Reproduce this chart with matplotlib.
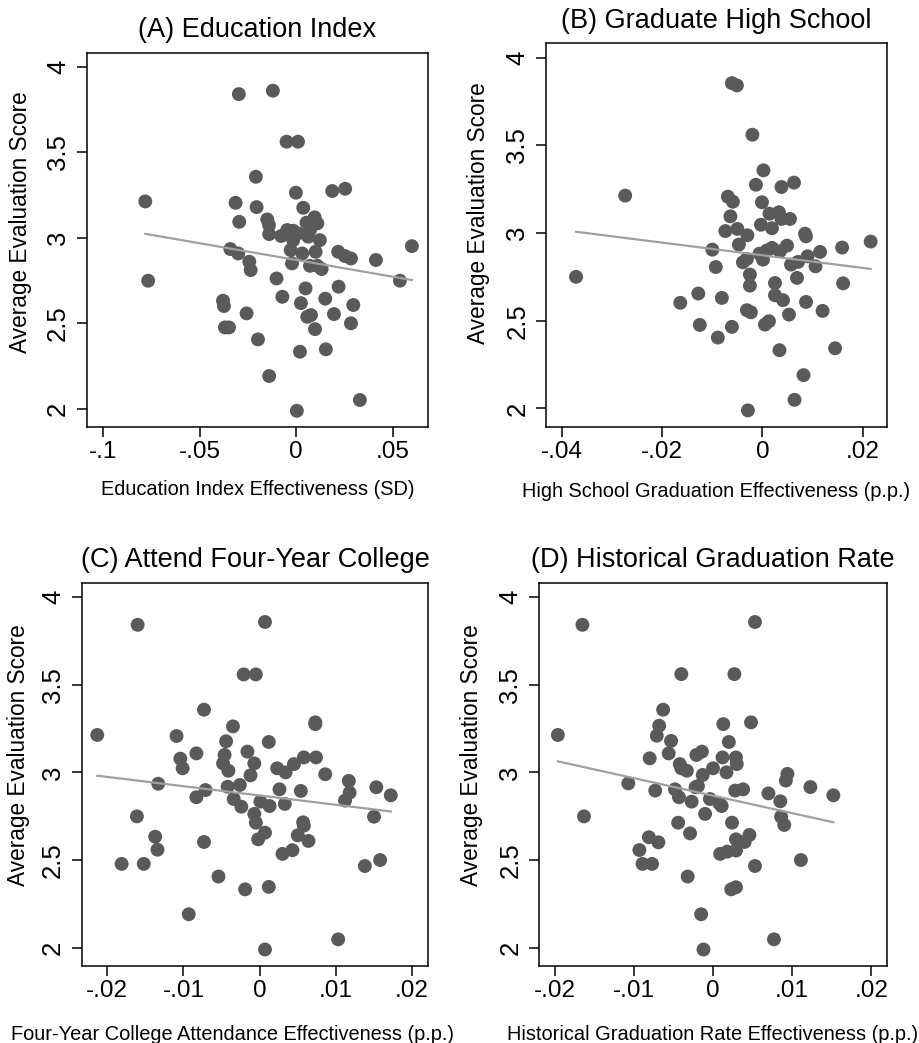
import numpy as np
import matplotlib
matplotlib.use("Agg")
import matplotlib.pyplot as plt
from matplotlib.ticker import FixedLocator, FixedFormatter

plt.rcParams['font.family'] = ['Liberation Sans', 'DejaVu Sans']

# Panel A: Education Index
a_x = [-0.0297, -0.0121, -0.0050, 0.0009, -0.0209, -0.0002, 0.0186, 0.0253, -0.0781, -0.0314,
       -0.0205, 0.0036, -0.0295, -0.0150, -0.0141, 0.0095, 0.0109, 0.0053, -0.0140, -0.0078,
       -0.0047, -0.0016, 0.0009, -0.0016, 0.0062, 0.0071, 0.0122, -0.0029, 0.0031, 0.0100,
       0.0217, 0.0252, 0.0283, 0.0412, 0.0598, -0.0341, -0.0300, -0.0243, -0.0236, -0.0022,
       0.0071, 0.0109, 0.0131, -0.0766, 0.0536, -0.0102, 0.0048, 0.0219, -0.0072, 0.0150,
       -0.0379, -0.0374, 0.0024, 0.0295, -0.0257, 0.0057, 0.0076, 0.0195, 0.0283, -0.0369,
       -0.0348, 0.0097, -0.0198, 0.0019, 0.0153, -0.0140, 0.0329, 0.0003]
a_y = [3.839, 3.859, 3.561, 3.561, 3.356, 3.263, 3.273, 3.286, 3.212, 3.204,
       3.179, 3.175, 3.093, 3.107, 3.074, 3.119, 3.084, 3.088, 3.021, 3.010,
       3.045, 3.041, 3.025, 2.986, 3.006, 3.045, 2.986, 2.928, 2.908, 2.918,
       2.918, 2.893, 2.879, 2.870, 2.951, 2.934, 2.908, 2.860, 2.811, 2.850,
       2.836, 2.836, 2.817, 2.749, 2.749, 2.762, 2.704, 2.714, 2.655, 2.644,
       2.632, 2.601, 2.618, 2.607, 2.558, 2.538, 2.548, 2.554, 2.500, 2.476,
       2.476, 2.466, 2.406, 2.334, 2.348, 2.192, 2.052, 1.989]

# Panel B: Graduate High School
b_x = [-0.0061, -0.0051, -0.0020, 0.0002, -0.0013, 0.0038, 0.0063, -0.0274, -0.0069, -0.0059,
       -0.0001, -0.0064, 0.0014, 0.0033, 0.0038, 0.0055, -0.0003, 0.0019, -0.0074, -0.0050,
       -0.0030, 0.0085, 0.0087, -0.0047, -0.0100, -0.0006, 0.0019, 0.0009, 0.0049, 0.0035,
       0.0159, 0.0216, 0.0115, 0.0090, -0.0031, -0.0039, 0.0001, 0.0071, 0.0057, 0.0106,
       -0.0093, -0.0372, -0.0025, 0.0069, -0.0025, 0.0025, 0.0161, -0.0128, -0.0081, 0.0025,
       0.0041, -0.0164, 0.0087, -0.0031, -0.0023, 0.0120, 0.0053, -0.0125, -0.0061, 0.0005,
       0.0013, -0.0089, 0.0034, 0.0145, 0.0082, 0.0064, -0.0029]
b_y = [3.854, 3.841, 3.560, 3.357, 3.275, 3.262, 3.287, 3.213, 3.207, 3.178,
       3.175, 3.095, 3.110, 3.118, 3.080, 3.080, 3.047, 3.027, 3.011, 3.023,
       2.987, 2.996, 2.981, 2.934, 2.905, 2.882, 2.915, 2.901, 2.928, 2.896,
       2.917, 2.951, 2.892, 2.867, 2.852, 2.833, 2.848, 2.835, 2.820, 2.810,
       2.806, 2.750, 2.763, 2.744, 2.700, 2.715, 2.713, 2.655, 2.630, 2.645,
       2.617, 2.602, 2.607, 2.560, 2.548, 2.556, 2.535, 2.476, 2.465, 2.478,
       2.497, 2.404, 2.332, 2.343, 2.190, 2.049, 1.989]

# Panel C: Attend Four-Year College
c_x = [-0.0160, 0.0007, -0.0021, -0.0005, -0.0073, -0.0035, 0.0073, 0.0073, -0.0213, -0.0109,
       -0.0044, 0.0012, -0.0016, -0.0083, -0.0104, -0.0101, -0.0046, -0.0048, -0.0041, -0.0007,
       -0.0012, 0.0023, 0.0034, 0.0045, 0.0058, 0.0074, 0.0086, -0.0133, -0.0026, -0.0042,
       -0.0071, -0.0083, 0.0026, 0.0054, 0.0117, 0.0118, 0.0112, 0.0153, 0.0172, -0.0034,
       -0.0024, 0.0001, 0.0013, 0.0033, -0.0161, 0.0150, -0.0007, -0.0005, 0.0057, 0.0058,
       0.0050, 0.0064, 0.0007, -0.0002, -0.0137, -0.0134, -0.0073, 0.0030, 0.0043, -0.0181,
       -0.0152, 0.0138, 0.0158, -0.0054, -0.0019, 0.0012, -0.0093, 0.0103, 0.0007]
c_y = [3.841, 3.857, 3.558, 3.558, 3.357, 3.262, 3.285, 3.275, 3.213, 3.207,
       3.177, 3.173, 3.118, 3.108, 3.078, 3.023, 3.099, 3.051, 3.009, 3.051,
       2.983, 3.023, 3.000, 3.047, 3.085, 3.085, 2.989, 2.935, 2.928, 2.918,
       2.899, 2.858, 2.903, 2.894, 2.951, 2.884, 2.839, 2.915, 2.869, 2.848,
       2.804, 2.833, 2.808, 2.820, 2.749, 2.747, 2.763, 2.713, 2.715, 2.696,
       2.641, 2.609, 2.656, 2.618, 2.633, 2.559, 2.603, 2.535, 2.556, 2.478,
       2.478, 2.466, 2.500, 2.406, 2.333, 2.347, 2.191, 2.048, 1.990]

# Panel D: Historical Graduation Rate
d_x = [-0.0165, 0.0053, -0.0040, 0.0027, -0.0063, -0.0068, -0.0071, 0.0013, 0.0048, -0.0196,
       -0.0053, 0.0020, -0.0056, -0.0080, -0.0021, -0.0014, 0.0012, 0.0029, 0.0030, -0.0042,
       -0.0040, -0.0033, 0.0000, 0.0017, -0.0013, 0.0094, 0.0092, -0.0107, -0.0019, -0.0022,
       -0.0048, -0.0073, 0.0028, 0.0038, 0.0123, 0.0070, 0.0152, -0.0043, -0.0027, -0.0004,
       0.0008, 0.0011, 0.0085, -0.0163, -0.0010, 0.0086, 0.0090, -0.0044, 0.0024, -0.0029,
       0.0046, 0.0029, 0.0040, -0.0081, -0.0069, -0.0093, -0.0089, -0.0077, 0.0009, 0.0018,
       0.0029, 0.0111, 0.0053, -0.0032, 0.0023, 0.0029, -0.0015, 0.0077, -0.0012]
d_y = [3.841, 3.857, 3.560, 3.560, 3.357, 3.266, 3.209, 3.275, 3.285, 3.213,
       3.179, 3.173, 3.108, 3.080, 3.099, 3.118, 3.085, 3.085, 3.047, 3.047,
       3.023, 3.009, 3.023, 3.000, 2.985, 2.991, 2.953, 2.937, 2.922, 2.915,
       2.903, 2.896, 2.896, 2.903, 2.916, 2.880, 2.869, 2.858, 2.833, 2.848,
       2.823, 2.808, 2.835, 2.749, 2.763, 2.747, 2.700, 2.713, 2.713, 2.652,
       2.643, 2.618, 2.603, 2.630, 2.601, 2.557, 2.478, 2.478, 2.535, 2.548,
       2.554, 2.500, 2.466, 2.406, 2.333, 2.345, 2.191, 2.048, 1.990]

# fitted lines: intercept, slope
fits = [(2.870, -1.957), (2.873, -3.60), (2.868, -5.30), (2.867, -9.98)]

titles = ["(A) Education Index", "(B) Graduate High School",
          "(C) Attend Four-Year College", "(D) Historical Graduation Rate"]
xlabels = ["Education Index Effectiveness (SD)",
           "High School Graduation Effectiveness (p.p.)",
           "Four-Year College Attendance Effectiveness (p.p.)",
           "Historical Graduation Rate Effectiveness (p.p.)"]
xticks = [[-0.1, -0.05, 0, 0.05], [-0.04, -0.02, 0, 0.02],
          [-0.02, -0.01, 0, 0.01, 0.02], [-0.02, -0.01, 0, 0.01, 0.02]]
xticklabels = [["-.1", "-.05", "0", ".05"], ["-.04", "-.02", "0", ".02"],
               ["-.02", "-.01", "0", ".01", ".02"], ["-.02", "-.01", "0", ".01", ".02"]]
xlims = [(-0.1084, 0.0683), (-0.0432, 0.0248), (-0.02334, 0.02212), (-0.02198, 0.02194)]
yticks = [2, 2.5, 3, 3.5, 4]
yticklabels = ["2", "2.5", "3", "3.5", "4"]

W, H = 919, 1043
# axes boxes in pixels: left, top, right, bottom
boxes = [(86.7, 52.7, 428.3, 426.7), (546, 43.3, 886.7, 426.7),
         (81.7, 582.7, 428.3, 966), (539, 582.7, 886.7, 966)]
label_x = [0.5, 0.5, 0.434, 0.5]
xlab_off = [53, 55, 59, 59]   # px below axes bottom to top of x label
ylab_off = [55, 56, 52, 56]   # px left of axes to right edge of y label
ylab_up = [18, 22, 19, 19]    # px shift of y label above axes centre

fig = plt.figure(figsize=(W / 100, H / 100), dpi=100)
data = [(a_x, a_y), (b_x, b_y), (c_x, c_y), (d_x, d_y)]

for i, (xs, ys) in enumerate(data):
    l, t, r, b = boxes[i]
    w, h = r - l, b - t
    ax = fig.add_axes([l / W, 1 - b / H, w / W, h / H])
    ax.scatter(xs, ys, s=100, color="#5a5a5a", edgecolors="none", zorder=2)
    a0, a1 = fits[i]
    lx = np.array([min(xs), max(xs)])
    ax.plot(lx, a0 + a1 * lx, color="#a0a0a0", lw=1.6, zorder=3)
    ax.set_xlim(*xlims[i])
    ax.set_ylim(1.896, 4.081)
    ax.xaxis.set_major_locator(FixedLocator(xticks[i]))
    ax.xaxis.set_major_formatter(FixedFormatter(xticklabels[i]))
    ax.yaxis.set_major_locator(FixedLocator(yticks))
    ax.yaxis.set_major_formatter(FixedFormatter(yticklabels))
    ax.tick_params(axis="x", length=7, width=1.1, labelsize=17.5, pad=3)
    ax.tick_params(axis="y", length=7, width=1.1, labelsize=18.5, pad=5)
    for lab in ax.get_yticklabels():
        lab.set_rotation(90)
        lab.set_va("center")
    for sp in ax.spines.values():
        sp.set_linewidth(1.1)
    ax.set_title(titles[i], fontsize=19.5, pad=11)
    ax.set_xlabel(xlabels[i], fontsize=14.4)
    ax.xaxis.set_label_coords(label_x[i], -xlab_off[i] / h)
    ax.set_ylabel("Average Evaluation Score", fontsize=16.3)
    ax.yaxis.set_label_coords(-ylab_off[i] / w, 0.5 + ylab_up[i] / h)

fig.savefig("out.png", dpi=100)
